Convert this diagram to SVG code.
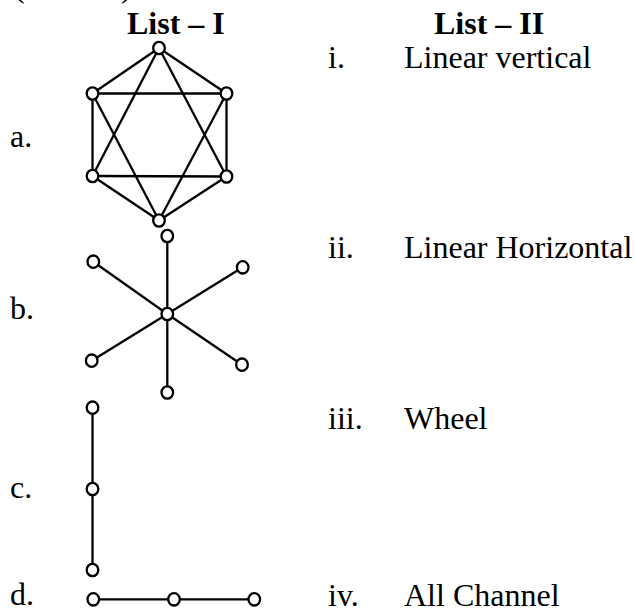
<svg xmlns="http://www.w3.org/2000/svg" width="635" height="612" viewBox="0 0 635 612">
<style>
text{font-family:"Liberation Serif","Times New Roman",serif;font-size:32px;fill:#000}
.b{font-weight:bold}
.e{stroke:#000;stroke-width:2.3;fill:none}
.n{fill:#fff;stroke:#000;stroke-width:2.3}
</style>
<rect width="635" height="612" fill="#fff"/>
<text x="14" y="-3">(</text>
<text x="121" y="-3">)</text>
<text class="b" x="127" y="34">List – I</text>
<text class="b" x="434" y="34">List – II</text>
<g id="labels-left">
<text x="10" y="147">a.</text>
<text x="10" y="319">b.</text>
<text x="10" y="498">c.</text>
<text x="10" y="605">d.</text>
</g>
<g id="labels-right">
<text x="328" y="68">i.</text><text x="404" y="68">Linear vertical</text>
<text x="328" y="258">ii.</text><text x="404" y="258">Linear Horizontal</text>
<text x="328" y="429">iii.</text><text x="404" y="429">Wheel</text>
<text x="328" y="606">iv.</text><text x="404" y="606">All Channel</text>
</g>
<g id="connectors" class="e">
<!-- a: all channel -->
<line x1="159" y1="48" x2="92.5" y2="93.5"/>
<line x1="159" y1="48" x2="226.5" y2="93.5"/>
<line x1="92.5" y1="93.5" x2="92.5" y2="176"/>
<line x1="226.5" y1="93.5" x2="226.5" y2="176.5"/>
<line x1="92.5" y1="176" x2="159" y2="220.5"/>
<line x1="226.5" y1="176.5" x2="159" y2="220.5"/>
<line x1="92.5" y1="93.5" x2="226.5" y2="93.5"/>
<line x1="92.5" y1="176" x2="226.5" y2="176.5"/>
<line x1="159" y1="48" x2="92.5" y2="176"/>
<line x1="159" y1="48" x2="226.5" y2="176.5"/>
<line x1="159" y1="220.5" x2="92.5" y2="93.5"/>
<line x1="159" y1="220.5" x2="226.5" y2="93.5"/>
<!-- b: wheel -->
<line x1="167.3" y1="314" x2="167.3" y2="236"/>
<line x1="167.3" y1="314" x2="167.3" y2="392.5"/>
<line x1="167.3" y1="314" x2="93.3" y2="261.7"/>
<line x1="167.3" y1="314" x2="242.7" y2="267.3"/>
<line x1="167.3" y1="314" x2="91.7" y2="360.7"/>
<line x1="167.3" y1="314" x2="242" y2="364.7"/>
<!-- c: vertical -->
<line x1="92.5" y1="407.7" x2="92.5" y2="570"/>
<!-- d: horizontal -->
<line x1="93.3" y1="599.3" x2="254.3" y2="599.3"/>
</g>
<g id="nodes-a" class="n">
<ellipse id="a1" cx="159" cy="48" rx="5.8" ry="6.2"/>
<ellipse id="a2" cx="92.5" cy="93.5" rx="5.8" ry="6.2"/>
<ellipse id="a3" cx="226.5" cy="93.5" rx="5.8" ry="6.2"/>
<ellipse id="a4" cx="92.5" cy="176" rx="5.8" ry="6.2"/>
<ellipse id="a5" cx="226.5" cy="176.5" rx="5.8" ry="6.2"/>
<ellipse id="a6" cx="159" cy="220.5" rx="5.8" ry="6.2"/>
</g>
<g id="nodes-b" class="n">
<ellipse id="b0" cx="167.3" cy="314" rx="5.8" ry="6.2"/>
<ellipse id="b1" cx="167.3" cy="236" rx="5.8" ry="6.2"/>
<ellipse id="b2" cx="93.3" cy="261.7" rx="5.8" ry="6.2"/>
<ellipse id="b3" cx="242.7" cy="267.3" rx="5.8" ry="6.2"/>
<ellipse id="b4" cx="91.7" cy="360.7" rx="5.8" ry="6.2"/>
<ellipse id="b5" cx="242" cy="364.7" rx="5.8" ry="6.2"/>
<ellipse id="b6" cx="167.3" cy="392.5" rx="5.8" ry="6.2"/>
</g>
<g id="nodes-c" class="n">
<ellipse id="c1" cx="92.5" cy="407.7" rx="5.8" ry="6.2"/>
<ellipse id="c2" cx="92.5" cy="489" rx="5.8" ry="6.2"/>
<ellipse id="c3" cx="92.5" cy="570" rx="5.8" ry="6.2"/>
</g>
<g id="nodes-d" class="n">
<ellipse id="d1" cx="93.3" cy="599.3" rx="5.8" ry="6.2"/>
<ellipse id="d2" cx="174" cy="599.3" rx="5.8" ry="6.2"/>
<ellipse id="d3" cx="254.3" cy="599.3" rx="5.8" ry="6.2"/>
</g>
</svg>
